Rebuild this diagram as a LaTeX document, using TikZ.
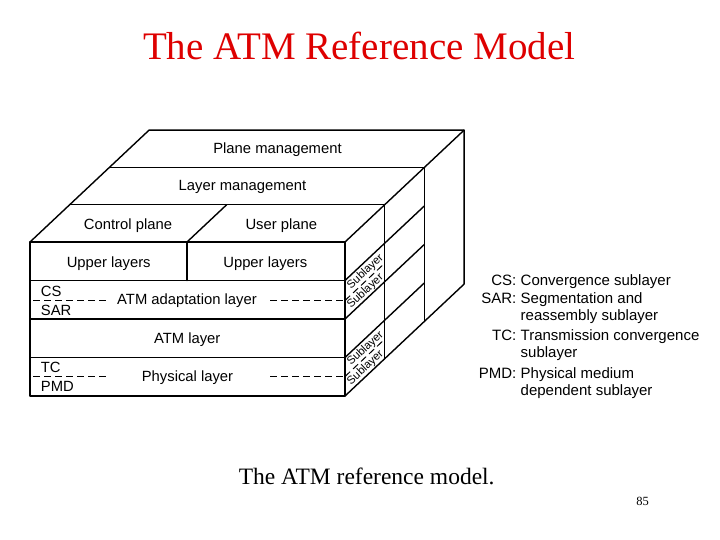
\documentclass[tikz,border=0pt]{standalone}
\usepackage{fontspec}
\setmainfont{Liberation Serif}
\setsansfont{Liberation Sans}
\definecolor{titlered}{RGB}{222,0,0}
\begin{document}
\begin{tikzpicture}[x=1pt,y=-1pt,
  edge/.style={line width=1.4pt, line join=round, line cap=round},
  outer/.style={line width=1.7pt, line join=round},
  dashline/.style={line width=1pt, dash pattern=on 7pt off 4pt},
  lbl/.style={font=\sffamily\fontsize{14.8}{17}\selectfont, inner sep=0pt, anchor=base},
  lblw/.style={font=\sffamily\fontsize{14.8}{17}\selectfont, inner sep=0pt, anchor=base west},
  leg/.style={font=\sffamily\fontsize{15}{18}\selectfont, inner sep=0pt, anchor=base west},
  legab/.style={font=\sffamily\fontsize{15}{18}\selectfont, inner sep=0pt, anchor=base east},
  sublbl/.style={font=\sffamily\fontsize{11.3}{13}\selectfont, inner sep=0pt, rotate=43.2}
]
\useasboundingbox (0,0) rectangle (720,540);
\fill[white] (0,0) rectangle (720,540);

% title
\node[font=\fontsize{39}{44}\selectfont, text=titlered, inner sep=0pt, anchor=base] (title) at (359.2,59.5) {The ATM Reference Model};

% top face
\draw[edge] (30,242) -- (149.1,130.1) -- (464.1,130.1) -- (464.1,284.1) -- (345,396);
\draw[edge] (345,242) -- (464.1,130.1);
\draw[edge] (69.7,204.7) -- (384.7,204.7) -- (384.7,358.7);
\draw[edge] (109.4,167.4) -- (424.4,167.4) -- (424.4,321.4);
\draw[edge] (187,242) -- (226.7,204.7);

% right face diagonals
\draw[edge] (345,280.5) -- (424.4,205.9);
\draw[edge] (345,319) -- (424.4,244.4);
\draw[edge] (345,357.5) -- (424.4,282.9);

% front face
\draw[outer] (30,242) rectangle (345,396);
\draw[edge] (30,280.5) -- (345,280.5);
\draw[edge] (30,319) -- (345,319);
\draw[edge] (30,357.5) -- (345,357.5);
\draw[edge] (187,242) -- (187,280.5);

% dashed sublayer dividers
\draw[dashline] (33,300.5) -- (108,300.5);
\draw[dashline] (270,300.5) -- (345,300.5);
\draw[dashline] (345,300.5) -- (384.7,263.2);
\draw[dashline] (33,376.5) -- (108,376.5);
\draw[dashline] (270,376.5) -- (345,376.5);
\draw[dashline] (345,376.5) -- (384.7,339.2);

% labels
\node[lbl] (pm) at (277.5,153.3) {Plane management};
\node[lbl] (lm) at (242.5,191) {Layer management};
\node[lbl] (cp) at (128,229.3) {Control plane};
\node[lbl] (up) at (281.3,229.3) {User plane};
\node[lbl] (ul1) at (108.7,267.7) {Upper layers};
\node[lbl] (ul2) at (265.3,267.7) {Upper layers};
\node[lbl] (aal) at (187,304.3) {ATM adaptation layer};
\node[lbl] (atm) at (187.2,343.3) {ATM layer};
\node[lbl] (phy) at (187.5,381) {Physical layer};
\node[lblw] (cs) at (40.7,296.7) {CS};
\node[lblw] (sar) at (40.7,315) {SAR};
\node[lblw] (tc) at (40.7,372.7) {TC};
\node[lblw] (pmd) at (40.7,391) {PMD};

% side sublayer labels
\node[sublbl] (s1) at (365.5,271.8) {Sublayer};
\node[sublbl] (s2) at (365.5,291.3) {Sublayer};
\node[sublbl] (s3) at (365.5,348.6) {Sublayer};
\node[sublbl] (s4) at (365.5,367.8) {Sublayer};

% legend
\node[legab] (kcs) at (516.5,285) {CS:};
\node[leg] (dcs) at (520.5,285) {Convergence sublayer};
\node[legab] (ksar) at (516.5,303.3) {SAR:};
\node[leg] (dsar) at (520.5,303.3) {Segmentation and};
\node[leg] (dsar2) at (520.5,320) {reassembly sublayer};
\node[legab] (ktc) at (516.5,340.5) {TC:};
\node[leg] (dtc) at (520.5,340.5) {Transmission convergence};
\node[leg] (dtc2) at (520.5,357) {sublayer};
\node[legab] (kpmd) at (516.5,378) {PMD:};
\node[leg] (dpmd) at (520.5,378) {Physical medium};
\node[leg] (dpmd2) at (520.5,395) {dependent sublayer};

% caption and page number
\node[font=\fontsize{23.5}{27}\selectfont, inner sep=0pt, anchor=base] (cap) at (366.7,484.5) {The ATM reference model.};
\node[font=\fontsize{12.5}{14}\selectfont, inner sep=0pt, anchor=base] (pg) at (642.5,505) {85};
\end{tikzpicture}
\end{document}
